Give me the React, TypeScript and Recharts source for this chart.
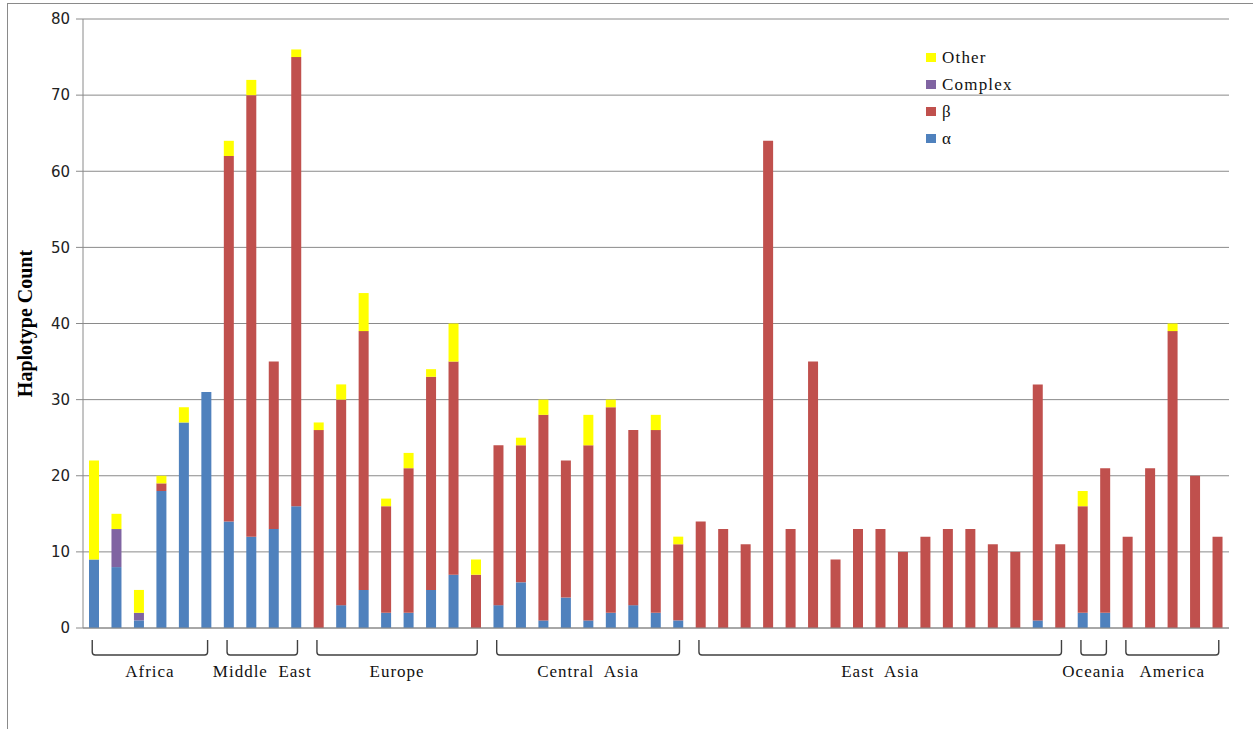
import { BarChart, Bar, XAxis, YAxis, CartesianGrid } from "recharts";

// Populations grouped by region, left to right
const regions = ["Africa", "Middle  East", "Europe", "Central  Asia", "East  Asia", "Oceania", "America"];
const regionSizes = [6, 4, 8, 9, 17, 2, 5];

// Haplotype counts per population, stacked bottom to top: α, β, Complex, Other
const alpha = [
  9, 8, 1, 18, 27, 31,
  14, 12, 13, 16,
  0, 3, 5, 2, 2, 5, 7, 0,
  3, 6, 1, 4, 1, 2, 3, 2, 1,
  0, 0, 0, 0, 0, 0, 0, 0, 0, 0, 0, 0, 0, 0, 0, 1, 0,
  2, 2,
  0, 0, 0, 0, 0,
];
const beta = [
  0, 0, 0, 1, 0, 0,
  48, 58, 22, 59,
  26, 27, 34, 14, 19, 28, 28, 7,
  21, 18, 27, 18, 23, 27, 23, 24, 10,
  14, 13, 11, 64, 13, 35, 9, 13, 13, 10, 12, 13, 13, 11, 10, 31, 11,
  14, 19,
  12, 21, 39, 20, 12,
];
const complex = [
  0, 5, 1, 0, 0, 0,
  0, 0, 0, 0,
  0, 0, 0, 0, 0, 0, 0, 0,
  0, 0, 0, 0, 0, 0, 0, 0, 0,
  0, 0, 0, 0, 0, 0, 0, 0, 0, 0, 0, 0, 0, 0, 0, 0, 0,
  0, 0,
  0, 0, 0, 0, 0,
];
const other = [
  13, 2, 3, 1, 2, 0,
  2, 2, 0, 1,
  1, 2, 5, 1, 2, 1, 5, 2,
  0, 1, 2, 0, 4, 1, 0, 2, 1,
  0, 0, 0, 0, 0, 0, 0, 0, 0, 0, 0, 0, 0, 0, 0, 0, 0,
  2, 0,
  0, 0, 1, 0, 0,
];
const yTicks = [0, 10, 20, 30, 40, 50, 60, 70, 80];

const series = [
  { key: "alpha", name: "α", color: "#4F81BD" },
  { key: "beta", name: "β", color: "#C0504D" },
  { key: "complex", name: "Complex", color: "#8064A2" },
  { key: "other", name: "Other", color: "#FFFF00" },
];

// first bar index of each region
const groupStarts: number[] = [];
regionSizes.reduce((start, n) => {
  groupStarts.push(start);
  return start + n;
}, 0);

const data = alpha.map((a, i) => ({
  id: `p${i + 1}`,
  alpha: a,
  beta: beta[i],
  complex: complex[i],
  other: other[i],
}));

const serif = "'Liberation Serif', 'Times New Roman', serif";

// Draws a bracket under each region's bars with the region name below it
function RegionTick(props: any) {
  const { x, y, index, width } = props;
  const g = groupStarts.indexOf(index);
  if (g < 0) return null;
  const step = (typeof width === "number" && width > 0 ? width : 1146) / data.length;
  const x0 = x - 2;
  const x1 = x + (regionSizes[g] - 1) * step + 1;
  const top = y + 12;
  const bot = y + 27;
  const r = 3;
  const d = `M${x0},${top} L${x0},${bot - r} Q${x0},${bot} ${x0 + r},${bot} L${x1 - r},${bot} Q${x1},${bot} ${x1},${bot - r} L${x1},${top}`;
  return (
    <g>
      <path d={d} fill="none" stroke="#404040" strokeWidth={1.4} />
      <text
        x={(x0 + x1) / 2}
        y={y + 49}
        textAnchor="middle"
        fontFamily={serif}
        fontSize={17}
        letterSpacing={1}
        fill="#111"
        style={{ whiteSpace: "pre" }}
      >
        {regions[g]}
      </text>
    </g>
  );
}

function YTitle(props: any) {
  const vb = props.viewBox || { x: 20, y: 19, width: 63, height: 609 };
  const cx = vb.x + 5;
  const cy = vb.y + vb.height / 2;
  return (
    <text
      x={cx}
      y={cy}
      transform={`rotate(-90 ${cx} ${cy})`}
      textAnchor="middle"
      dominantBaseline="central"
      fontFamily={serif}
      fontWeight="bold"
      fontSize={20}
      fill="#000"
    >
      Haplotype Count
    </text>
  );
}

function LegendList() {
  return (
    <div
      style={{
        position: "absolute",
        left: 926,
        top: 44,
        fontFamily: serif,
        fontSize: 17,
        letterSpacing: 1.2,
        color: "#111",
      }}
    >
      {[...series].reverse().map((s) => (
        <div key={s.key} style={{ display: "flex", alignItems: "center", height: 27 }}>
          <span style={{ width: 10, height: 9, background: s.color, marginRight: 6, display: "inline-block" }} />
          <span>{s.name}</span>
        </div>
      ))}
    </div>
  );
}

export default function App() {
  return (
    <div style={{ position: "absolute", left: 0, top: 0, width: 1253, height: 729, background: "#fff" }}>
      <div style={{ position: "absolute", left: 7, top: 3, right: 0, bottom: 0, borderTop: "1px solid #8a8a8a", borderLeft: "1px solid #8a8a8a" }} />
      <BarChart
        width={1253}
        height={729}
        data={data}
        margin={{ top: 19, right: 24, bottom: 41, left: 20 }}
        barSize={10}
        style={{ position: "absolute", left: 0, top: 0 }}
      >
        <CartesianGrid vertical={false} stroke="#8a8a8a" />
        <XAxis
          dataKey="id"
          interval={0}
          tickLine={false}
          tickSize={0}
          tickMargin={0}
          height={60}
          axisLine={{ stroke: "#8a8a8a" }}
          tick={<RegionTick />}
        />
        <YAxis
          domain={[0, 80]}
          ticks={yTicks}
          width={63}
          tickSize={7}
          tickMargin={6}
          axisLine={{ stroke: "#8a8a8a" }}
          tickLine={{ stroke: "#8a8a8a" }}
          tick={{ fontFamily: "'DejaVu Sans', sans-serif", fontSize: 15, fill: "#222" }}
          label={<YTitle />}
        />
        {series.map((s) => (
          <Bar key={s.key} dataKey={s.key} name={s.name} stackId="a" fill={s.color} isAnimationActive={false} />
        ))}
      </BarChart>
      <LegendList />
    </div>
  );
}
